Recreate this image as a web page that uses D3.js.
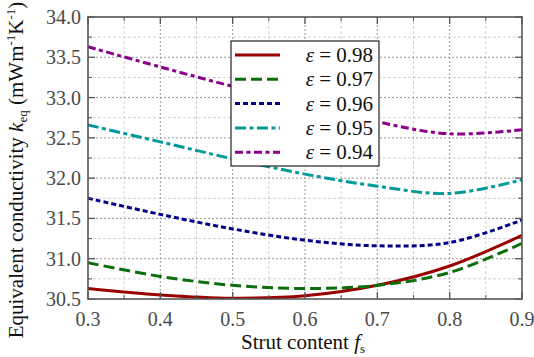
<!DOCTYPE html>
<html><head><meta charset="utf-8">
<script src="https://cdn.jsdelivr.net/npm/d3@7"></script>
<style>
body{margin:0;background:#fff;}
</style></head>
<body><svg id="c" width="534" height="357" font-family="'Liberation Serif', 'Times New Roman', 'DejaVu Serif', serif"></svg>
<script>
// Strut content values where k_eq was evaluated
const strutContent = [0.3, 0.4, 0.5, 0.6, 0.7, 0.8, 0.9];
// Equivalent conductivity (mW m^-1 K^-1) for each porosity
const keq098 = [30.63, 30.55, 30.51, 30.54, 30.67, 30.91, 31.29];
const keq097 = [30.95, 30.78, 30.67, 30.63, 30.67, 30.83, 31.19];
const keq096 = [31.75, 31.55, 31.37, 31.23, 31.16, 31.20, 31.48];
const keq095 = [32.66, 32.45, 32.24, 32.05, 31.90, 31.81, 31.98];
const keq094 = [33.63, 33.38, 33.14, 32.93, 32.70, 32.55, 32.60];
const porosityLabels = ["0.98", "0.97", "0.96", "0.95", "0.94"];
const xTicks = [0.3, 0.4, 0.5, 0.6, 0.7, 0.8, 0.9];
const yTicks = [30.5, 31.0, 31.5, 32.0, 32.5, 33.0, 33.5, 34.0];

const series = [
  {label: porosityLabels[0], values: keq098, color: "#9b0000", dash: null},
  {label: porosityLabels[1], values: keq097, color: "#0b6e0b", dash: "11,5"},
  {label: porosityLabels[2], values: keq096, color: "#00008b", dash: "5,3"},
  {label: porosityLabels[3], values: keq095, color: "#009a9a", dash: "11,3.5,4,3.5"},
  {label: porosityLabels[4], values: keq094, color: "#8b008b", dash: "8,3.5,4,3.5"}
];

const svg = d3.select("#c");
const m = {l: 88, r: 12, t: 17, b: 58};
const W = 534, H = 357;
const x = d3.scaleLinear().domain([0.3, 0.9]).range([m.l, W - m.r]);
const y = d3.scaleLinear().domain([30.5, 34.0]).range([H - m.b, m.t]);

const g = svg.append("g");
// minor grid
const xMinor = d3.range(0.35, 0.9, 0.1);
const yMinor = d3.range(30.75, 34, 0.5);
g.selectAll(".gxm").data(xMinor).join("line")
  .attr("x1", d => x(d)).attr("x2", d => x(d)).attr("y1", y(30.5)).attr("y2", y(34))
  .attr("stroke", "#d0d0d0").attr("stroke-width", 1).attr("stroke-dasharray", "3,2");
g.selectAll(".gym").data(yMinor).join("line")
  .attr("y1", d => y(d)).attr("y2", d => y(d)).attr("x1", x(0.3)).attr("x2", x(0.9))
  .attr("stroke", "#d0d0d0").attr("stroke-width", 1).attr("stroke-dasharray", "3,2");
// major grid
g.selectAll(".gx").data(xTicks.slice(1, -1)).join("line")
  .attr("x1", d => x(d)).attr("x2", d => x(d)).attr("y1", y(30.5)).attr("y2", y(34))
  .attr("stroke", "#999").attr("stroke-width", 1).attr("stroke-dasharray", "2,2");
g.selectAll(".gy").data(yTicks.slice(1, -1)).join("line")
  .attr("y1", d => y(d)).attr("y2", d => y(d)).attr("x1", x(0.3)).attr("x2", x(0.9))
  .attr("stroke", "#999").attr("stroke-width", 1).attr("stroke-dasharray", "2,2");

// curves
const line = d3.line().x((d, i) => x(strutContent[i])).y(d => y(d)).curve(d3.curveCatmullRom.alpha(0.5));
svg.append("clipPath").attr("id", "pc").append("rect")
  .attr("x", x(0.3)).attr("y", y(34)).attr("width", x(0.9) - x(0.3)).attr("height", y(30.5) - y(34));
series.forEach(s => {
  svg.append("path").attr("d", line(s.values)).attr("fill", "none")
    .attr("stroke", s.color).attr("stroke-width", 3)
    .attr("stroke-dasharray", s.dash).attr("clip-path", "url(#pc)");
});

// axes (ticks inside, mirrored on top/right)
const axisCol = "#555";
const ax = svg.append("g");
function ticks(vals, len, minor) {
  vals.forEach(v => {
    ax.append("line").attr("x1", x(v)).attr("x2", x(v)).attr("y1", y(30.5)).attr("y2", y(30.5) - len).attr("stroke", axisCol).attr("stroke-width", minor ? 1 : 1.3);
    ax.append("line").attr("x1", x(v)).attr("x2", x(v)).attr("y1", y(34)).attr("y2", y(34) + len).attr("stroke", axisCol).attr("stroke-width", minor ? 1 : 1.3);
  });
}
ticks(xTicks, 7, false); ticks(xMinor, 4, true);
function yt(vals, len, minor) {
  vals.forEach(v => {
    ax.append("line").attr("y1", y(v)).attr("y2", y(v)).attr("x1", x(0.3)).attr("x2", x(0.3) + len).attr("stroke", axisCol).attr("stroke-width", minor ? 1 : 1.3);
    ax.append("line").attr("y1", y(v)).attr("y2", y(v)).attr("x1", x(0.9)).attr("x2", x(0.9) - len).attr("stroke", axisCol).attr("stroke-width", minor ? 1 : 1.3);
  });
}
yt(yTicks, 7, false); yt(yMinor, 4, true);
ax.append("rect").attr("x", x(0.3)).attr("y", y(34)).attr("width", x(0.9) - x(0.3)).attr("height", y(30.5) - y(34))
  .attr("fill", "none").attr("stroke", axisCol).attr("stroke-width", 1.6);

// tick labels
svg.selectAll(".xl").data(xTicks).join("text")
  .attr("x", d => x(d)).attr("y", y(30.5) + 27).attr("text-anchor", "middle")
  .attr("font-size", 20).attr("fill", "#4a4a4a").text(d => d3.format(".1f")(d));
svg.selectAll(".yl").data(yTicks).join("text")
  .attr("x", x(0.3) - 7).attr("y", d => y(d) + 7).attr("text-anchor", "end")
  .attr("font-size", 20).attr("fill", "#4a4a4a").text(d => d3.format(".1f")(d));

// axis titles
const xt = svg.append("text").attr("x", 303).attr("y", 349).attr("text-anchor", "middle")
  .attr("font-size", 21).attr("fill", "#111");
xt.append("tspan").text("Strut content ");
xt.append("tspan").attr("font-style", "italic").text("f");
xt.append("tspan").attr("font-size", 13).attr("dy", 4).text("s");

const ytl = svg.append("text").attr("transform", `translate(23,${(y(30.5) + y(34)) / 2 + 12}) rotate(-90)`)
  .attr("text-anchor", "middle").attr("font-size", 21).attr("fill", "#111");
ytl.append("tspan").text("Equivalent conductivity ");
ytl.append("tspan").attr("font-style", "italic").text("k");
ytl.append("tspan").attr("font-size", 13).attr("dy", 4).text("eq");
ytl.append("tspan").attr("dy", -4).text(" (mWm");
ytl.append("tspan").attr("font-size", 13).attr("dy", -8).text("-1");
ytl.append("tspan").attr("dy", 8).text("K");
ytl.append("tspan").attr("font-size", 13).attr("dy", -8).text("-1");
ytl.append("tspan").attr("dy", 8).text(")");

// legend
const lg = svg.append("g").attr("transform", "translate(231,41)");
lg.append("rect").attr("width", 148).attr("height", 125).attr("fill", "#fff").attr("stroke", "#222").attr("stroke-width", 1.2);
series.forEach((s, i) => {
  const ry = 14 + i * 24.3;
  lg.append("line").attr("x1", 4).attr("x2", 49).attr("y1", ry).attr("y2", ry)
    .attr("stroke", s.color).attr("stroke-width", 3).attr("stroke-dasharray", s.dash);
  const t = lg.append("text").attr("x", 142).attr("y", ry + 7).attr("text-anchor", "end")
    .attr("font-size", 21).attr("fill", "#111");
  t.append("tspan").attr("font-style", "italic").text("ε");
  t.append("tspan").text(" = " + s.label);
});
</script></body></html>
